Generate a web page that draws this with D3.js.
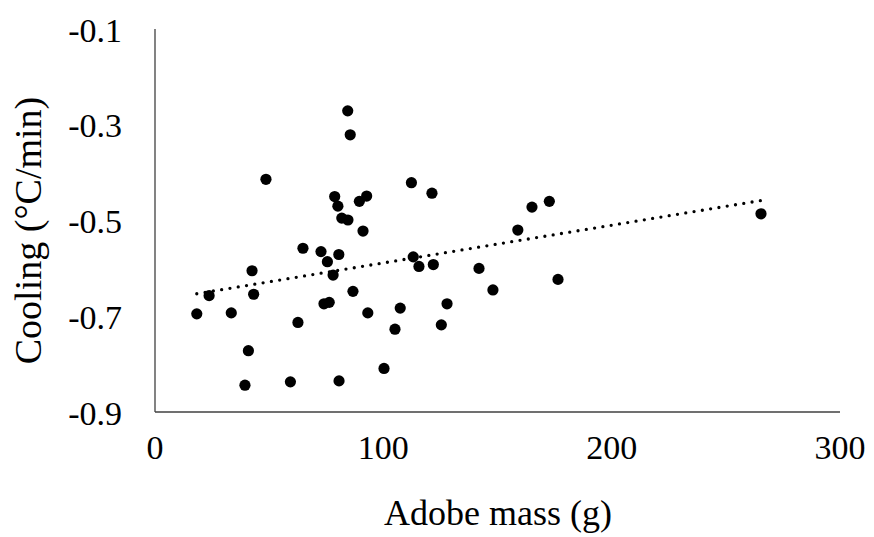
<!DOCTYPE html>
<meta charset="utf-8">
<style>
    body { margin: 0; background: #fff; }
    text { font-family: "Liberation Serif", "Times New Roman", serif; fill: #000; }
</style>
<svg width="874" height="537"></svg>
<script src="https://cdn.jsdelivr.net/npm/d3@7"></script>
<script>

    // adobe mass (g) and cooling rate (°C/min)
    var mass = [84.4, 85.5, 48.6, 78.7, 92.7, 89.5, 80.1, 81.8, 84.5, 91.1,
        64.8, 72.7, 80.5, 75.5, 42.5, 78.0, 23.7, 43.2, 86.7, 74.0,
        76.3, 18.3, 33.4, 93.2, 62.6, 105.1, 40.9, 100.3, 39.4, 59.3,
        80.6, 112.3, 121.3, 165.1, 172.7, 158.9, 113.1, 115.6, 121.9, 141.9,
        176.5, 148.0, 107.4, 127.9, 125.4, 265.4];
    var cooling = [-0.271, -0.321, -0.414, -0.450, -0.449, -0.460, -0.470, -0.495, -0.499, -0.522,
        -0.558, -0.565, -0.571, -0.586, -0.605, -0.614, -0.657, -0.654, -0.648, -0.674,
        -0.671, -0.695, -0.693, -0.693, -0.713, -0.727, -0.772, -0.809, -0.844, -0.837,
        -0.835, -0.421, -0.443, -0.472, -0.460, -0.520, -0.576, -0.596, -0.592, -0.600,
        -0.623, -0.645, -0.683, -0.674, -0.718, -0.486];

    var xTicks = [0, 100, 200, 300];
    var yTicks = [-0.1, -0.3, -0.5, -0.7, -0.9];

    var points = mass.map(function(m, i) { return {x: m, y: cooling[i]}; });

    var svg = d3.select("svg");

    var x = d3.scaleLinear().domain([0, 300]).range([155, 840]);
    var y = d3.scaleLinear().domain([-0.9, -0.1]).range([412, 29]);

    // y axis
    svg.append("line")
        .attr("x1", x(0)).attr("x2", x(0))
        .attr("y1", y(-0.1)).attr("y2", y(-0.9))
        .attr("stroke", "#404040").attr("stroke-width", 1.3);
    // x axis
    svg.append("line")
        .attr("x1", x(0)).attr("x2", x(300))
        .attr("y1", y(-0.9)).attr("y2", y(-0.9))
        .attr("stroke", "#404040").attr("stroke-width", 1.3);

    svg.selectAll(".ytick")
        .data(yTicks)
        .enter().append("text")
        .attr("class", "ytick")
        .attr("x", 122)
        .attr("y", function(d) { return y(d) + 12.5; })
        .attr("text-anchor", "end")
        .attr("font-size", 34)
        .text(function(d) { return d.toFixed(1); });

    svg.selectAll(".xtick")
        .data(xTicks)
        .enter().append("text")
        .attr("class", "xtick")
        .attr("x", function(d) { return x(d); })
        .attr("y", 459)
        .attr("text-anchor", "middle")
        .attr("font-size", 34)
        .text(function(d) { return d; });

    svg.append("text")
        .attr("x", 498).attr("y", 525)
        .attr("text-anchor", "middle")
        .attr("font-size", 36)
        .text("Adobe mass (g)");

    svg.append("text")
        .attr("transform", "translate(41," + ((y(-0.1) + y(-0.9)) / 2 + 10) + ") rotate(-90)")
        .attr("text-anchor", "middle")
        .attr("font-size", 38)
        .text("Cooling (°C/min)");

    // linear trendline (least squares)
    var mx = d3.mean(mass), my = d3.mean(cooling);
    var sxy = d3.sum(points, function(d) { return (d.x - mx) * (d.y - my); });
    var sxx = d3.sum(points, function(d) { return (d.x - mx) * (d.x - mx); });
    var slope = sxy / sxx, icpt = my - slope * mx;
    var ext = d3.extent(mass);

    svg.append("line")
        .attr("x1", x(ext[0])).attr("y1", y(icpt + slope * ext[0]))
        .attr("x2", x(ext[1])).attr("y2", y(icpt + slope * ext[1]))
        .attr("stroke", "#000")
        .attr("stroke-width", 3.3)
        .attr("stroke-linecap", "round")
        .attr("stroke-dasharray", "0 8.4");

    svg.selectAll(".dot")
        .data(points)
        .enter().append("circle")
        .attr("class", "dot")
        .attr("cx", function(d) { return x(d.x); })
        .attr("cy", function(d) { return y(d.y); })
        .attr("r", 5.6)
        .attr("fill", "#000");

</script>
